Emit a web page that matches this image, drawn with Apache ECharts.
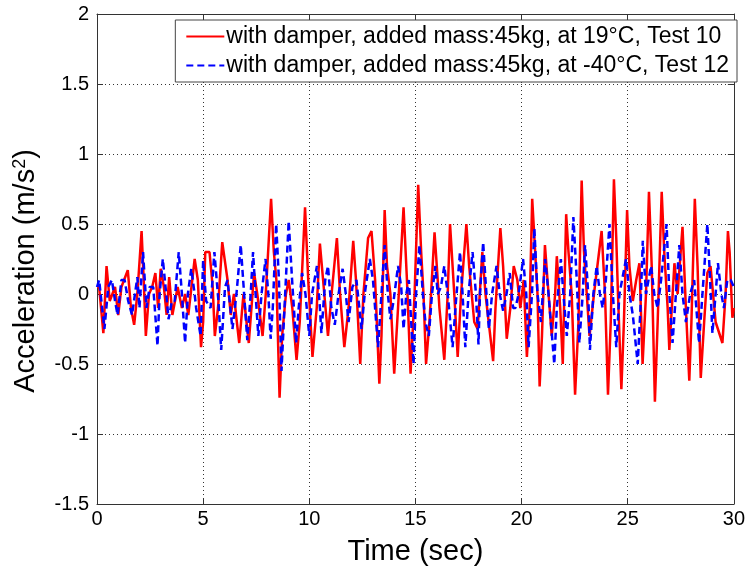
<!DOCTYPE html>
<html>
<head>
<meta charset="utf-8">
<script src="https://cdn.jsdelivr.net/npm/echarts@6/dist/echarts.min.js"></script>
<style>
html, body { margin: 0; padding: 0; background: #fff; }
#chart { width: 748px; height: 571px; }
</style>
</head>
<body>
<div id="chart"></div>
<script>
// time (sec), acceleration (m/s^2)
var test10 = [
    [0,0.05],[0.1,0.05],[0.3,-0.28],[0.45,0.2],[0.6,-0.05],[0.85,0.05],[1.0,-0.15],[1.15,0.05],[1.45,0.17],[1.6,-0.1],
    [1.75,-0.22],[1.9,0.0],[2.1,0.45],[2.2,0.1],[2.3,-0.3],[2.45,0.0],[2.6,0.05],[2.75,0.15],[2.88,-0.1],[3.0,0.18],
    [3.15,0.05],[3.28,-0.15],[3.4,0.12],[3.55,-0.15],[3.8,0.05],[4.0,-0.1],[4.15,0.0],[4.3,-0.15],[4.6,0.25],[4.75,0.1],
    [4.9,-0.38],[5.0,-0.2],[5.1,0.3],[5.3,0.3],[5.45,0.05],[5.55,-0.3],[5.7,-0.1],[5.9,0.37],[6.15,0.1],[6.3,-0.15],
    [6.45,0.0],[6.55,-0.15],[6.7,-0.35],[6.9,0.0],[7.15,-0.35],[7.4,0.15],[7.55,0.0],[7.8,-0.3],[7.95,0.0],[8.2,0.68],
    [8.33,0.3],[8.45,0.1],[8.6,-0.74],[8.72,-0.3],[8.9,0.0],[9.03,0.1],[9.2,-0.1],[9.4,-0.47],[9.55,-0.2],[9.8,0.62],
    [9.95,0.1],[10.15,-0.45],[10.35,-0.1],[10.5,0.36],[10.65,0.1],[10.88,-0.3],[11.05,0.0],[11.3,0.4],[11.45,0.0],[11.65,-0.38],
    [11.85,-0.1],[12.07,0.38],[12.2,0.1],[12.4,-0.5],[12.55,0.0],[12.77,0.4],[12.93,0.45],[13.1,0.1],[13.3,-0.64],[13.4,-0.3],
    [13.55,0.6],[13.66,0.2],[13.82,0.0],[14.0,-0.57],[14.18,-0.1],[14.44,0.62],[14.6,0.1],[14.77,-0.57],[14.96,0.0],[15.13,0.78],
    [15.27,0.3],[15.38,0.0],[15.5,-0.5],[15.66,-0.2],[15.9,0.44],[16.05,0.1],[16.13,-0.1],[16.36,-0.47],[16.52,0.0],[16.63,0.5],
    [16.83,0.0],[16.99,-0.45],[17.15,0.0],[17.4,0.5],[17.53,0.2],[17.77,-0.2],[17.93,-0.25],[18.15,0.3],[18.3,0.0],[18.45,-0.2],
    [18.66,-0.48],[18.77,-0.1],[19.0,0.47],[19.13,0.2],[19.3,-0.32],[19.47,-0.1],[19.63,0.2],[19.8,0.1],[19.94,-0.1],[20.1,0.1],
    [20.25,-0.45],[20.38,-0.1],[20.5,0.68],[20.64,0.3],[20.75,0.0],[20.85,-0.66],[20.96,-0.3],[21.1,0.35],[21.27,0.0],[21.42,-0.3],
    [21.58,0.0],[21.66,0.27],[21.82,-0.1],[21.94,-0.5],[22.1,0.57],[22.21,0.3],[22.36,0.0],[22.52,-0.72],[22.68,-0.2],[22.83,0.81],
    [22.94,0.3],[23.07,0.0],[23.2,-0.3],[23.41,0.0],[23.77,0.45],[23.93,0.0],[24.07,-0.72],[24.2,-0.2],[24.35,0.82],[24.46,0.4],
    [24.54,0.0],[24.7,-0.68],[24.82,-0.2],[24.97,0.6],[25.08,0.2],[25.24,-0.05],[25.4,0.1],[25.55,0.22],[25.7,-0.5],[25.86,0.0],
    [26.0,0.73],[26.13,0.2],[26.28,-0.77],[26.41,-0.2],[26.6,0.73],[26.72,0.3],[26.88,-0.1],[26.96,-0.4],[27.2,0.22],[27.35,0.0],
    [27.58,0.48],[27.74,-0.1],[27.9,-0.62],[28.0,-0.2],[28.16,0.68],[28.29,0.2],[28.44,-0.6],[28.6,-0.2],[28.75,0.15],[28.9,0.2],
    [29.14,-0.2],[29.46,-0.35],[29.61,0.0],[29.72,0.45],[29.8,0.3],[29.93,-0.17],[30,-0.1]
];

var test12 = [
    [0,0.05],[0.1,0.1],[0.35,-0.25],[0.53,0.05],[0.7,0.1],[0.85,-0.05],[0.97,-0.15],[1.15,0.1],[1.3,0.1],[1.47,-0.05],
    [1.65,-0.15],[1.9,0.12],[2.0,-0.1],[2.17,0.3],[2.33,-0.1],[2.48,0.05],[2.65,0.05],[2.85,-0.37],[2.95,0.0],[3.1,0.25],
    [3.26,0.0],[3.37,-0.18],[3.53,-0.05],[3.66,-0.05],[3.85,0.3],[4.0,0.0],[4.15,-0.35],[4.28,0.0],[4.44,0.18],[4.6,0.0],
    [4.67,-0.1],[4.88,-0.3],[5.0,0.24],[5.14,-0.05],[5.35,-0.1],[5.53,0.3],[5.72,-0.05],[5.85,-0.4],[6.03,0.05],[6.15,0.1],
    [6.38,-0.25],[6.57,0.0],[6.77,0.35],[6.93,0.0],[7.08,-0.33],[7.24,0.0],[7.35,0.3],[7.47,0.0],[7.6,-0.3],[7.75,0.0],
    [7.94,0.25],[8.07,0.0],[8.18,-0.32],[8.28,-0.1],[8.44,0.5],[8.57,0.1],[8.69,-0.55],[8.8,-0.2],[9.03,0.52],[9.19,0.1],
    [9.38,-0.35],[9.5,-0.1],[9.66,0.15],[9.82,0.0],[10.0,-0.3],[10.13,0.0],[10.36,0.2],[10.5,-0.1],[10.57,-0.28],[10.75,0.1],
    [10.88,0.2],[11.04,-0.1],[11.2,-0.22],[11.38,0.0],[11.57,0.18],[11.72,0.0],[11.85,-0.2],[12.03,0.05],[12.22,0.1],[12.46,-0.25],
    [12.61,0.0],[12.85,0.25],[13.0,0.1],[13.24,-0.38],[13.4,0.0],[13.55,0.35],[13.7,0.0],[13.82,-0.18],[13.97,-0.05],[14.18,0.2],
    [14.33,0.05],[14.44,-0.25],[14.57,0.0],[14.69,0.1],[14.91,-0.5],[15.03,0.0],[15.19,0.35],[15.35,0.0],[15.47,-0.2],[15.63,-0.3],
    [15.78,0.0],[15.94,0.2],[16.05,0.0],[16.2,0.05],[16.36,0.2],[16.52,0.0],[16.75,-0.38],[16.91,-0.05],[17.1,0.3],[17.22,0.0],
    [17.35,-0.38],[17.5,0.0],[17.69,0.3],[17.85,0.0],[17.97,-0.36],[18.04,0.0],[18.19,0.37],[18.3,0.1],[18.46,-0.25],[18.61,0.0],
    [18.82,0.2],[18.97,0.0],[19.13,-0.12],[19.29,0.0],[19.44,0.15],[19.6,-0.1],[19.71,-0.1],[19.86,0.0],[20.07,0.25],[20.22,0.0],
    [20.33,-0.38],[20.49,0.0],[20.6,0.47],[20.75,0.0],[20.91,-0.2],[21.11,0.25],[21.27,0.0],[21.54,-0.5],[21.66,-0.1],[21.85,0.25],
    [21.97,0.0],[22.13,-0.3],[22.29,0.0],[22.44,0.55],[22.6,0.1],[22.72,-0.35],[22.88,0.0],[22.99,0.35],[23.14,0.0],[23.22,-0.4],
    [23.38,0.0],[23.54,0.2],[23.69,0.0],[23.82,-0.1],[23.97,0.1],[24.14,0.5],[24.3,0.0],[24.46,-0.38],[24.61,0.0],[24.92,0.25],
    [25.08,0.0],[25.24,-0.15],[25.47,-0.5],[25.6,-0.1],[25.71,0.38],[25.86,0.0],[26.1,0.2],[26.25,0.0],[26.41,-0.1],[26.57,0.1],
    [26.83,0.5],[26.96,0.0],[27.11,-0.35],[27.27,0.0],[27.43,0.35],[27.58,0.0],[27.74,-0.2],[27.94,0.0],[28.13,0.1],[28.36,-0.35],
    [28.52,0.0],[28.75,0.5],[28.88,0.1],[28.99,-0.28],[29.14,0.0],[29.25,0.22],[29.41,0.0],[29.53,-0.1],[29.69,0.1],[29.85,0.1],
    [30,0.05]
];

var seriesNames = [
    'with damper, added mass:45kg, at 19°C, Test 10',
    'with damper, added mass:45kg, at -40°C, Test 12'
];
var xRange = [0, 30, 5];
var yRange = [-1.5, 2, 0.5];

var font = 'Liberation Sans, Arial, sans-serif';

var gridLine = {
    show: true,
    lineStyle: { color: '#333', type: [1, 3], width: 1 }
};

var options = {
    animation: false,
    backgroundColor: '#fff',
    grid: { left: 97, right: 11, top: 14, bottom: 65, containLabel: false },
    legend: {
        orient: 'vertical',
        right: 11,
        top: 20,
        itemWidth: 38,
        itemHeight: 14,
        itemGap: 6,
        padding: [5, 8, 5, 10],
        backgroundColor: '#fff',
        borderColor: '#444',
        borderWidth: 1,
        borderRadius: 0,
        itemStyle: { color: 'rgba(0,0,0,0)', borderWidth: 0 },
        textStyle: { fontFamily: font, fontSize: 23, color: '#000', padding: [0, 0, 0, -3] },
        data: seriesNames
    },
    xAxis: [
        {
            type: 'value',
            min: xRange[0], max: xRange[1], interval: xRange[2],
            name: 'Time (sec)',
            nameLocation: 'middle',
            nameGap: 33,
            nameTextStyle: { fontFamily: font, fontSize: 29, color: '#000' },
            axisLine: { show: true, onZero: false, lineStyle: { color: '#333', width: 1 } },
            axisTick: { show: true, inside: true, length: 6, lineStyle: { color: '#333' } },
            axisLabel: { fontFamily: font, fontSize: 20, color: '#000', margin: 5 },
            splitLine: gridLine
        },
        {
            type: 'value', position: 'top',
            min: xRange[0], max: xRange[1], interval: xRange[2],
            axisLine: { show: true, onZero: false, lineStyle: { color: '#333', width: 1 } },
            axisTick: { show: true, inside: true, length: 6, lineStyle: { color: '#333' } },
            axisLabel: { show: false },
            splitLine: { show: false }
        }
    ],
    yAxis: [
        {
            type: 'value',
            min: yRange[0], max: yRange[1], interval: yRange[2],
            name: '{a|Acceleration (m/s}{s|2}{a|)}',
            nameLocation: 'middle',
            nameGap: 56,
            nameRotate: 90,
            nameTextStyle: {
                padding: [0, 24, 0, 0],
                rich: {
                    a: { fontFamily: font, fontSize: 29, color: '#000' },
                    s: { fontFamily: font, fontSize: 18, color: '#000', verticalAlign: 'top', padding: [0, 0, 12, 0] }
                }
            },
            axisLine: { show: true, onZero: false, lineStyle: { color: '#333', width: 1 } },
            axisTick: { show: true, inside: true, length: 6, lineStyle: { color: '#333' } },
            axisLabel: { fontFamily: font, fontSize: 20, color: '#000', margin: 8 },
            splitLine: gridLine
        },
        {
            type: 'value', position: 'right',
            min: yRange[0], max: yRange[1], interval: yRange[2],
            axisLine: { show: true, onZero: false, lineStyle: { color: '#333', width: 1 } },
            axisTick: { show: true, inside: true, length: 6, lineStyle: { color: '#333' } },
            axisLabel: { show: false },
            splitLine: { show: false }
        }
    ],
    series: [
        {
            name: seriesNames[0],
            type: 'line',
            symbol: 'none',
            data: test10,
            lineStyle: { color: '#ff0000', width: 2.5 },
            itemStyle: { color: '#ff0000' }
        },
        {
            name: seriesNames[1],
            type: 'line',
            symbol: 'none',
            data: test12,
            lineStyle: { color: '#0000ff', width: 2.5, type: [7, 4] },
            itemStyle: { color: '#0000ff' }
        }
    ]
};

var myChart = echarts.init(document.getElementById('chart'));
myChart.setOption(options);
</script>
</body>
</html>
